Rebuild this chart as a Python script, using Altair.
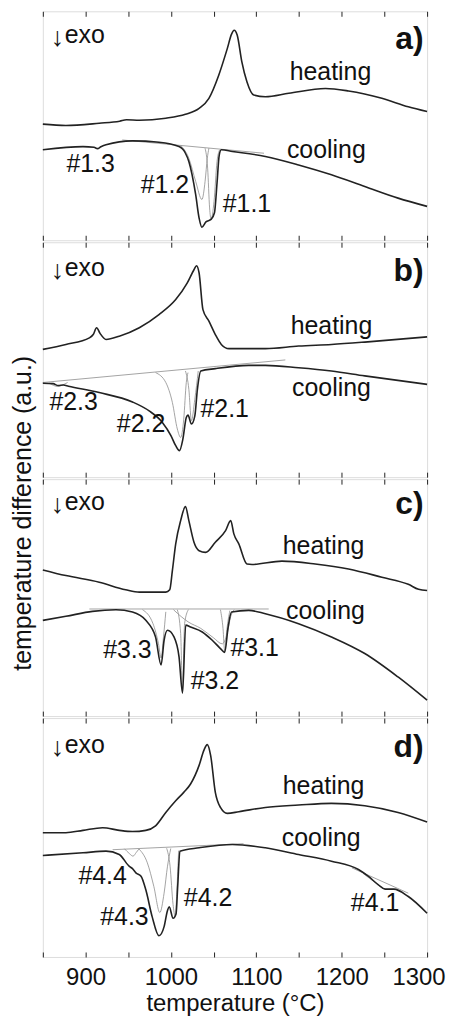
import altair as alt
import pandas as pd

FONT = "Liberation Sans"
T_DOMAIN = [850, 1300]
tick_values = [850, 900, 950, 1000, 1050, 1100, 1150, 1200, 1250, 1300]

# ---------------- panel a ----------------
a_heat_T = [850, 877, 916, 940, 948, 963, 994, 1017, 1033, 1044.5, 1056, 1066, 1071, 1074, 1077.6, 1083, 1089, 1097, 1110.6, 1138, 1181, 1208, 1247, 1278, 1300]
a_heat_v = [50.7, 50.1, 51.1, 52.0, 52.6, 52.4, 53.3, 55.0, 57.6, 62.0, 72.1, 83.7, 90.0, 91.7, 89.6, 78.0, 69.2, 63.4, 62.7, 64.2, 66.3, 65.2, 62.0, 58.3, 56.2]
a_cool_T = [850, 897, 910, 914, 918, 924, 955, 986, 1009.5, 1017, 1021, 1029, 1033, 1036.3, 1041, 1047, 1051, 1054, 1056.5, 1059, 1072, 1110.6, 1149.5, 1188, 1227, 1266, 1300]
a_cool_v = [39.5, 40.9, 40.6, 40.0, 40.8, 41.7, 43.4, 42.8, 40.9, 38.0, 34.4, 19.9, 9.7, 5.7, 8.0, 9.1, 12.0, 25.0, 37.0, 39.5, 38.8, 36.6, 32.9, 28.6, 23.5, 18.4, 14.8]
a_base_T = [943, 1109]
a_base_v = [43.8, 38.0]
a_p12_T = [1011.5, 1021, 1029, 1036.3, 1040, 1042.6, 1044.5]
a_p12_v = [41.4, 35.8, 25.7, 17.8, 25.7, 35.8, 40.2]
a_p11_T = [1040, 1043, 1045.3, 1047, 1050.5, 1054, 1057]
a_p11_v = [40.2, 31.5, 14.1, 9.1, 17.0, 34.4, 39.5]

# ---------------- panel b ----------------
b_heat_T = [850, 877, 904.5, 909, 913, 917, 924, 939.5, 963, 986, 1005.6, 1019, 1027, 1030, 1033, 1037.5, 1044.5, 1052, 1059, 1068, 1110.6, 1149.5, 1188, 1227, 1300]
b_heat_v = [54.4, 56.5, 59.3, 60.7, 63.6, 61.2, 58.6, 60.0, 63.6, 69.2, 75.6, 82.6, 88.3, 90.0, 86.9, 71.3, 66.4, 60.7, 56.5, 54.7, 54.7, 55.8, 56.5, 57.5, 59.7]
b_cool_T = [850, 862, 868, 874, 880, 916, 955, 974.5, 990, 1000, 1005.6, 1010, 1014, 1018, 1020, 1024, 1028, 1031, 1035, 1052, 1091, 1110.6, 1149.5, 1188, 1227, 1300]
b_cool_v = [40.0, 39.8, 39.0, 39.2, 38.7, 36.0, 32.0, 28.2, 23.3, 17.7, 13.4, 11.3, 16.2, 25.4, 26.4, 22.6, 26.1, 37.4, 45.2, 46.2, 47.6, 47.6, 46.6, 45.2, 43.1, 39.5]
b_base_T = [850, 1134]
b_base_v = [40.3, 49.9]
b_p23_T = [857.8, 867.5, 873, 879]
b_p23_v = [40.0, 38.6, 39.2, 40.3]
b_p22_T = [982, 994, 1001.7, 1007.5, 1011.4, 1015, 1018, 1020]
b_p22_v = [44.5, 40.3, 31.8, 20.5, 16.9, 24.7, 40.3, 44.5]
b_p21_T = [1017, 1021, 1024, 1028, 1032]
b_p21_v = [45.2, 37.4, 24.0, 33.2, 45.2]

# ---------------- panel c ----------------
c_heat_T = [850, 877, 916, 947, 963, 994, 998.6, 1001.7, 1005.6, 1011.4, 1017, 1021, 1027, 1033, 1040.6, 1052, 1064, 1070, 1073.7, 1079.5, 1089, 1095, 1130, 1169, 1208, 1247, 1278, 1290, 1300]
c_heat_v = [61.7, 59.3, 56.5, 53.3, 52.3, 52.3, 53.3, 61.4, 72.7, 82.5, 88.4, 82.5, 73.4, 69.8, 69.1, 73.4, 78.3, 82.5, 76.9, 72.7, 64.2, 64.0, 65.4, 64.2, 62.1, 58.6, 55.6, 53.5, 53.0]
c_cool_T = [850, 877, 908, 935.6, 955, 970.6, 982, 988.5, 992, 996, 1003.6, 1009.5, 1013.6, 1017.3, 1023, 1036.7, 1048.4, 1058, 1063, 1067, 1071, 1091, 1110.6, 1149.5, 1188, 1227, 1266, 1300]
c_cool_v = [40.4, 42.1, 44.2, 44.9, 43.9, 40.4, 33.4, 21.6, 32.0, 36.2, 33.4, 25.0, 9.7, 38.4, 37.6, 35.5, 32.0, 28.5, 26.9, 37.6, 43.9, 44.6, 43.2, 39.0, 33.4, 26.4, 16.5, 6.7]
c_base_T = [904.5, 1114.5]
c_base_v = [45.2, 45.2]
c_p33_T = [966.7, 979, 985.4, 988.5, 991.3, 994]
c_p33_v = [44.9, 39.0, 30.6, 24.5, 33.4, 44.0]
c_p32_T = [1007.5, 1011.4, 1013.6, 1016, 1020.4]
c_p32_v = [44.9, 34.8, 10.5, 39.0, 44.9]
c_pbr_T = [1003, 1012, 1020, 1035, 1050, 1060, 1066, 1070, 1074]
c_pbr_v = [44.9, 42.0, 39.8, 37.0, 33.0, 30.5, 35.0, 42.0, 44.9]
c_p31_T = [1058, 1061, 1063, 1065.5, 1069]
c_p31_v = [44.9, 37.0, 27.5, 36.5, 44.5]

# ---------------- panel d ----------------
d_heat_T = [850, 877, 897, 920, 939.5, 955, 970.6, 982, 994, 1005.6, 1015, 1023, 1033, 1038.6, 1042.6, 1046.5, 1052, 1058, 1066, 1079.5, 1110.6, 1149.5, 1188, 1227, 1266, 1300]
d_heat_v = [52.0, 52.0, 53.0, 54.1, 53.0, 52.5, 53.0, 54.9, 60.5, 65.4, 68.9, 72.4, 80.2, 86.5, 88.9, 84.4, 68.9, 62.6, 60.1, 60.8, 62.6, 63.6, 64.3, 63.3, 60.5, 56.5]
d_cool_T = [850, 897, 924, 939.5, 951, 955, 959, 965, 970.6, 978, 986, 992, 996, 998, 1002.5, 1006, 1008, 1010.5, 1033, 1072, 1110.6, 1149.5, 1188, 1219.6, 1231, 1243, 1251, 1261, 1278, 1300]
d_cool_v = [42.5, 43.6, 44.3, 42.9, 38.0, 37.0, 35.2, 33.8, 28.1, 16.9, 8.9, 12.7, 19.5, 21.0, 16.2, 18.0, 30.0, 44.3, 45.7, 47.1, 45.7, 42.9, 40.1, 36.6, 33.8, 30.2, 28.4, 28.4, 25.3, 18.3]
d_base_T = [931.7, 1085]
d_base_v = [44.9, 47.4]
d_p44_T = [945.6, 951.6, 955.6, 959.5, 962.6]
d_p44_v = [45.3, 43.2, 42.2, 43.8, 45.2]
d_p43_T = [962.6, 972.4, 980, 987, 992, 996, 999.8]
d_p43_v = [45.2, 39.4, 29.5, 18.6, 26.7, 38.0, 45.4]
d_p42_T = [995, 999, 1002.5, 1005, 1007, 1009]
d_p42_v = [45.5, 38.0, 22.0, 17.0, 28.0, 44.5]
d_b41_T = [1212, 1278]
d_b41_v = [37.3, 26.7]
d_p41_T = [1225, 1240, 1252, 1262, 1270]
d_p41_v = [35.0, 31.0, 28.3, 28.3, 27.5]

# ---------------- annotations ----------------
panel_keys = ["a", "b", "c", "d"]
panel_heights = [230, 236, 238, 240]
exo_T = [861.7, 861.7, 861.7, 861.7]
exo_v = [89.6, 89.0, 90.3, 88.6]
letter_T = [1296, 1296, 1296, 1296]
letter_v = [87.8, 87.7, 89.5, 87.8]
heat_lab_T = [1186.8, 1188, 1178.7, 1178.7]
heat_lab_v = [73.5, 64.4, 71.8, 71.7]
cool_lab_T = [1182, 1188, 1181, 1176]
cool_lab_v = [39.6, 38.1, 44.5, 49.8]
a_peak_labels = ["#1.3", "#1.2", "#1.1"]
a_peak_T = [906, 993, 1089]
a_peak_v = [33.5, 24.3, 16.0]
b_peak_labels = ["#2.3", "#2.2", "#2.1"]
b_peak_T = [886, 965, 1063]
b_peak_v = [31.8, 22.5, 28.8]
c_peak_labels = ["#3.3", "#3.2", "#3.1"]
c_peak_T = [949, 1051.6, 1098]
c_peak_v = [27.7, 14.7, 28.6]
d_peak_labels = ["#4.4", "#4.3", "#4.2", "#4.1"]
d_peak_T = [920, 945.6, 1043.5, 1239]
d_peak_v = [33.8, 16.9, 24.5, 22.4]

# ---------------- build tables ----------------
g = globals()
rows = []
series_names = {
    "a": ["heat", "cool", "base", "p12", "p11"],
    "b": ["heat", "cool", "base", "p23", "p22", "p21"],
    "c": ["heat", "cool", "base", "p33", "p32", "pbr", "p31"],
    "d": ["heat", "cool", "base", "p44", "p43", "p42", "b41", "p41"],
}
for k in panel_keys:
    for s in series_names[k]:
        Ts = g[f"{k}_{s}_T"]
        vs = g[f"{k}_{s}_v"]
        kind = "main" if s in ("heat", "cool") else "fit"
        for i, (t, v) in enumerate(zip(Ts, vs)):
            rows.append({"panel": k, "curve": s, "kind": kind, "i": i, "T": t, "v": v})
curves = pd.DataFrame(rows)

lab_rows = []
for n, k in enumerate(panel_keys):
    for txt, t, v in zip(g[f"{k}_peak_labels"], g[f"{k}_peak_T"], g[f"{k}_peak_v"]):
        lab_rows.append({"panel": k, "text": txt, "T": t, "v": v})
    lab_rows.append({"panel": k, "text": "heating", "T": heat_lab_T[n], "v": heat_lab_v[n]})
    lab_rows.append({"panel": k, "text": "cooling", "T": cool_lab_T[n], "v": cool_lab_v[n]})
labels = pd.DataFrame(lab_rows)
exo = pd.DataFrame({"panel": panel_keys, "arrow": ["↓"] * 4, "text": ["exo"] * 4, "T": exo_T, "v": exo_v})
letters = pd.DataFrame({"panel": panel_keys, "text": [k + ")" for k in panel_keys], "T": letter_T, "v": letter_v})

xscale = alt.Scale(domain=T_DOMAIN, nice=False, zero=False)
yscale = alt.Scale(domain=[0, 100], nice=False, zero=False)
Y = alt.Y("v:Q", scale=yscale, axis=None)
XN = alt.X("T:Q", scale=xscale, axis=None)


def panel(n, k):
    last = n == len(panel_keys) - 1
    bottom_axis = alt.Axis(
        orient="bottom", values=tick_values, tickSize=5, offset=-5, domain=False, grid=False,
        labels=last, format="d", labelExpr="datum.value % 100 == 0 ? datum.label : ''",
        labelFlush=True, labelFlushOffset=18, labelPadding=9, labelFontSize=24,
        labelFont=FONT, labelColor="#111", tickColor="#222", tickWidth=1,
        title="temperature (°C)" if last else None, titleFontSize=24, titleFont=FONT,
        titleFontWeight="normal", titlePadding=2, titleColor="#111",
    )
    top_axis = alt.Axis(
        orient="top", values=tick_values, tickSize=5, offset=-5, domain=False, grid=False,
        labels=False, title=None, tickColor="#222", tickWidth=1,
    )
    cd = curves[curves.panel == k]
    fits = alt.Chart(cd[cd.kind == "fit"]).mark_line(
        color="#8c8c8c", strokeWidth=0.8, interpolate="monotone"
    ).encode(x=XN, y=Y, detail="curve:N", order="i:Q")
    heat = alt.Chart(cd[cd.curve == "heat"]).mark_line(
        color="#222", strokeWidth=1.6, interpolate="monotone"
    ).encode(x=alt.X("T:Q", scale=xscale, axis=bottom_axis), y=Y, order="i:Q")
    cool = alt.Chart(cd[cd.curve == "cool"]).mark_line(
        color="#222", strokeWidth=1.6, interpolate="monotone"
    ).encode(x=alt.X("T:Q", scale=xscale, axis=top_axis), y=Y, order="i:Q")
    txt = alt.Chart(labels[labels.panel == k]).mark_text(
        font=FONT, fontSize=25, color="#111", align="center", baseline="middle"
    ).encode(x=XN, y=Y, text="text:N")
    ed = exo[exo.panel == k]
    arrow = alt.Chart(ed).mark_text(
        font=FONT, fontSize=27, fontWeight="bold", color="#111", align="left", baseline="middle", dy=3, dx=-2
    ).encode(x=XN, y=Y, text="arrow:N")
    ex = alt.Chart(ed).mark_text(
        font=FONT, fontSize=25, color="#111", align="left", baseline="middle", dx=12
    ).encode(x=XN, y=Y, text="text:N")
    let = alt.Chart(letters[letters.panel == k]).mark_text(
        font=FONT, fontSize=32, fontWeight="bold", color="#111", align="right", baseline="middle"
    ).encode(x=XN, y=Y, text="text:N")
    return alt.layer(fits, heat, cool, txt, arrow, ex, let).resolve_axis(x="independent").properties(
        width=386, height=panel_heights[n]
    )


chart = alt.vconcat(*[panel(n, k) for n, k in enumerate(panel_keys)], spacing=0).properties(
    padding={"left": 3, "top": 0, "right": 0, "bottom": 0},
    title=alt.TitleParams(
        text="temperature difference (a.u.)", orient="left", anchor="middle",
        fontSize=25, fontWeight="normal", font=FONT, color="#111", offset=3,
    ),
).configure_view(stroke="#222", strokeWidth=1.2).configure(background="white")

chart.save("out.html", embed_options={"renderer": "svg", "actions": False})
